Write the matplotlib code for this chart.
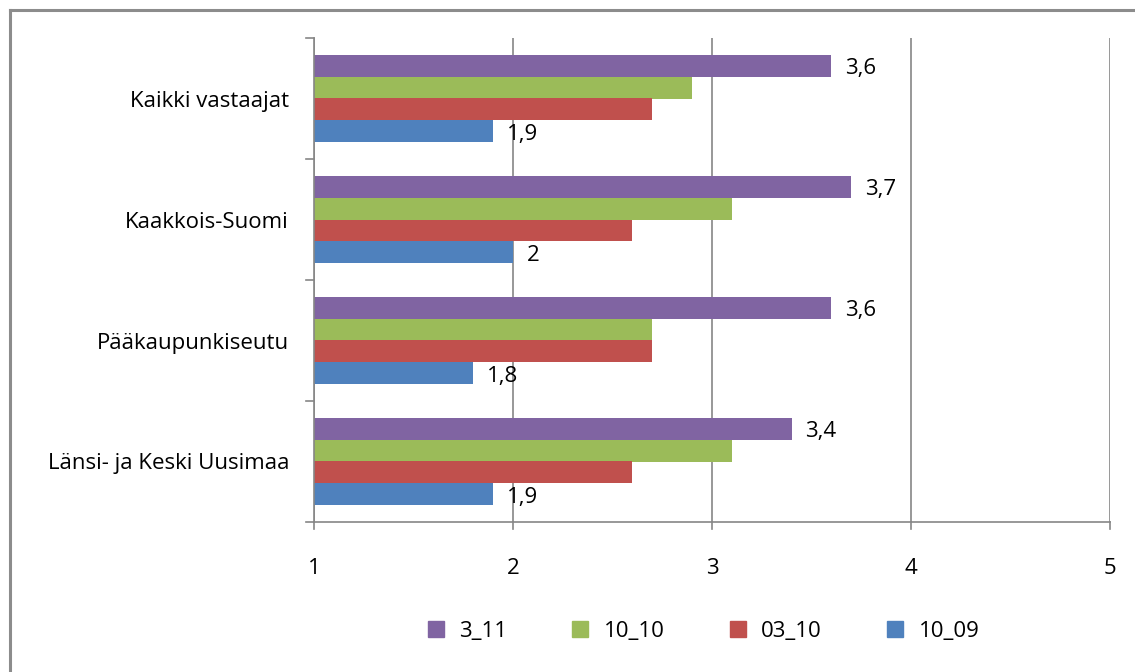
import matplotlib
matplotlib.use("Agg")
import matplotlib.pyplot as plt
from matplotlib.lines import Line2D
import numpy as np

categories = ["Kaikki vastaajat", "Kaakkois-Suomi", "Pääkaupunkiseutu", "Länsi- ja Keski Uusimaa"]
series_names = ["3_11", "10_10", "03_10", "10_09"]
s_3_11 = [3.6, 3.7, 3.6, 3.4]
s_10_10 = [2.9, 3.1, 2.7, 3.1]
s_03_10 = [2.7, 2.6, 2.7, 2.6]
s_10_09 = [1.9, 2.0, 1.8, 1.9]
x_ticks = [1, 2, 3, 4, 5]

colors = ["#8064A2", "#9BBB59", "#C0504D", "#4F81BD"]
series = [s_3_11, s_10_10, s_03_10, s_10_09]
labeled = [True, False, False, True]

plt.rcParams['font.family'] = ['Open Sans', 'DejaVu Sans']
fs = 16

fig = plt.figure(figsize=(11.35, 6.72), dpi=100)
ax = fig.add_axes([314/1135, 1-522/672, (1110-314)/1135, (522-38)/672])

n = len(categories)
ypos = np.arange(n)[::-1].astype(float)  # top category at largest y
bh = 0.18
offsets = [1.5*bh, 0.5*bh, -0.5*bh, -1.5*bh]
for vals, col, off, lab in zip(series, colors, offsets, labeled):
    widths = [v - 1 for v in vals]
    ax.barh(ypos + off, widths, left=1, height=bh, color=col, zorder=3)
    if lab:
        for yy, v in zip(ypos + off, vals):
            ax.text(v + 0.07, yy - 0.025, f"{v:g}".replace(".", ","), va="center", ha="left",
                    fontsize=fs, color="#000000", zorder=4)

ax.set_xlim(1, 5)
ax.set_ylim(-0.5, n - 0.5)
ax.set_xticks(x_ticks)
ax.set_xticklabels([str(t) for t in x_ticks], fontsize=fs)
ax.set_yticks(ypos)
ax.set_yticklabels(categories, fontsize=fs)
ax.tick_params(axis='y', length=0, pad=18)
ax.tick_params(axis='x', length=0, pad=26)
# boundary ticks
for b in np.arange(n + 1) - 0.5:
    ax.plot([0.96, 1], [b, b], color="#868686", lw=1.2, clip_on=False, zorder=5)
for t in x_ticks:
    ax.plot([t, t], [-0.5, -0.5 - 0.06], color="#868686", lw=1.2, clip_on=False, zorder=5)

ax.grid(axis='x', color="#868686", lw=1.2, zorder=0)
for s in ["top", "right"]:
    ax.spines[s].set_visible(False)
for s in ["left", "bottom"]:
    ax.spines[s].set_color("#868686")
    ax.spines[s].set_linewidth(1.2)
    ax.spines[s].set_zorder(5)

handles = [Line2D([], [], marker='s', linestyle='none', markersize=11,
                  markerfacecolor=c, markeredgecolor=c) for c in colors]
fig.legend(handles, series_names, loc='center', bbox_to_anchor=(0.6135, 1-631/672),
           ncol=4, frameon=False, fontsize=fs, handletextpad=0.05, columnspacing=2.3)

# outer border (top and left visible)
fig.add_artist(Line2D([10/1135, 1], [1-10/672, 1-10/672], color="#8c8c8c", lw=2.2))
fig.add_artist(Line2D([10/1135, 10/1135], [0, 1-10/672], color="#8c8c8c", lw=2.2))

fig.savefig("out.png", dpi=100)
